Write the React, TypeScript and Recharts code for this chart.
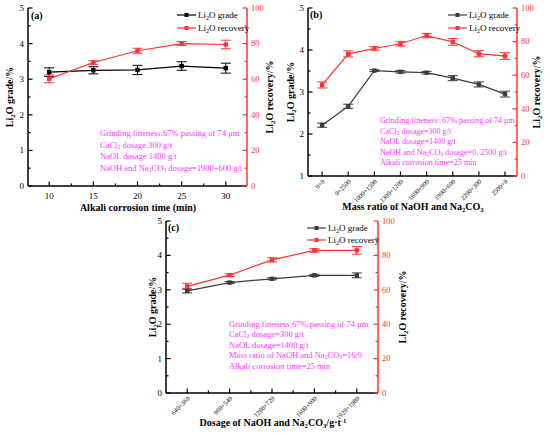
import React from 'react';
import type { ReactNode } from 'react';
import { LineChart, Line, XAxis, YAxis, ErrorBar, Legend } from 'recharts';

const FONT = '"Liberation Serif", "Times New Roman", serif';
const RED = '#ff3333';
const MAGENTA = '#ff33ff';

// (a) alkali corrosion time
const timeMinutes = [10, 15, 20, 25, 30];
const gradeA = [3.2, 3.25, 3.26, 3.37, 3.31];
const gradeErrA = [0.12, 0.1, 0.13, 0.12, 0.14];
const recoveryA = [60.2, 69.4, 76.0, 80.0, 79.5];
const recoveryErrA = [2.2, 1.0, 1.4, 1.1, 2.4];

// (b) mass ratio of NaOH and Na2CO3
const ratioLabels = ['0+0', '0+2500', '1000+1500', '1300+1200', '1600+900', '1900+600', '2200+300', '2500+0'];
const gradeB = [2.21, 2.66, 3.51, 3.48, 3.46, 3.33, 3.18, 2.95];
const gradeErrB = [0.05, 0.05, 0.02, 0.03, 0.03, 0.06, 0.06, 0.07];
const recoveryB = [54.2, 72.7, 75.9, 78.7, 83.6, 79.8, 72.8, 71.4];
const recoveryErrB = [1.8, 1.8, 1.0, 1.4, 1.3, 2.0, 1.8, 2.0];

// (c) dosage of NaOH and Na2CO3
const dosageLabels = ['640+360', '960+540', '1280+720', '1600+900', '1920+1080'];
const gradeC = [2.97, 3.21, 3.32, 3.42, 3.42];
const gradeErrC = [0.06, 0.03, 0.03, 0.03, 0.07];
const recoveryC = [62.0, 68.5, 77.4, 82.9, 82.9];
const recoveryErrC = [1.8, 0.8, 1.2, 1.0, 2.2];

// major ticks every 20, minor every 10
const recoveryTicks = [0, 10, 20, 30, 40, 50, 60, 70, 80, 90, 100];

type Row = { x: number; grade: number; gradeErr: number; recovery: number; recoveryErr: number };

const makeRows = (xs: number[], g: number[], ge: number[], r: number[], re: number[]): Row[] =>
  xs.map((x, i) => ({ x, grade: g[i], gradeErr: ge[i], recovery: r[i], recoveryErr: re[i] }));

const Sub = ({ children }: { children: ReactNode }) => (
  <sub style={{ fontSize: '0.68em', lineHeight: 0, verticalAlign: '-0.25em' }}>{children}</sub>
);
const Sup = ({ children }: { children: ReactNode }) => (
  <sup style={{ fontSize: '0.68em', lineHeight: 0, verticalAlign: '0.45em' }}>{children}</sup>
);

const BottomTick = (props: any) => {
  const { x, y, payload, labelOf, rotated } = props;
  const label = labelOf(payload.value);
  return (
    <g>
      <line x1={x} y1={y} x2={x} y2={y - (label === null ? 2.5 : 4.5)} stroke="#000" strokeWidth={1.2} />
      {label !== null &&
        (rotated ? (
          <text
            transform={`translate(${x + 3},${y + 6}) rotate(-45)`}
            textAnchor="end"
            fontSize={6.5}
            fontFamily={FONT}
            fill="#000"
          >
            {label}
          </text>
        ) : (
          <text x={x} y={y + 13} textAnchor="middle" fontSize={9} fontFamily={FONT} fill="#000">
            {label}
          </text>
        ))}
    </g>
  );
};

const LeftTick = (props: any) => {
  const { x, y, payload } = props;
  const major = Number.isInteger(payload.value);
  return (
    <g>
      <line x1={x} y1={y} x2={x + (major ? 4.5 : 2.5)} y2={y} stroke="#000" strokeWidth={1.2} />
      {major && (
        <text x={x - 4} y={y} dy="0.34em" textAnchor="end" fontSize={9} fontFamily={FONT} fill="#000">
          {payload.value}
        </text>
      )}
    </g>
  );
};

const RightTick = (props: any) => {
  const { x, y, payload } = props;
  const major = payload.value % 20 === 0;
  return (
    <g>
      <line x1={x} y1={y} x2={x - (major ? 4.5 : 2.5)} y2={y} stroke={RED} strokeWidth={1.2} />
      {major && (
        <text x={x + 4} y={y} dy="0.34em" textAnchor="start" fontSize={8.5} fontFamily={FONT} fill={RED}>
          {payload.value}
        </text>
      )}
    </g>
  );
};

const squareDot = (color: string) => (p: any) => (
  <rect key={`d-${p.index}`} x={p.cx - 2.2} y={p.cy - 2.2} width={4.4} height={4.4} fill={color} />
);

const LegendRows = ({ gradeColor }: { gradeColor: string }) => (
  <div style={{ fontFamily: FONT, fontSize: 9, color: '#000' }}>
    {[
      { c: gradeColor, t: 'grade' },
      { c: RED, t: 'recovery' },
    ].map((item) => (
      <div key={item.t} style={{ display: 'flex', alignItems: 'center', height: 12.5, whiteSpace: 'nowrap' }}>
        <svg width={19} height={8}>
          <line x1={0} y1={4} x2={19} y2={4} stroke={item.c} strokeWidth={1.2} />
          <rect x={7.5} y={2} width={4} height={4} fill={item.c} />
        </svg>
        <span style={{ marginLeft: 2 }}>
          Li<Sub>2</Sub>O {item.t}
        </span>
      </div>
    ))}
  </div>
);

interface PanelProps {
  left: number;
  top: number;
  width: number;
  height: number;
  marginTop: number;
  leftW: number;
  rightW: number;
  xH: number;
  data: Row[];
  xDomain: [number, number];
  xTicks: number[];
  labelOf: (v: number) => string | null;
  rotated: boolean;
  gradeDomain: [number, number];
  gradeTicks: number[];
  gradeColor: string;
  tag: string;
  tagX: number;
  tagY: number;
  legendX: number;
  legendY: number;
  xTitle: ReactNode;
  xTitleX: number;
  xTitleY: number;
  yLeftX: number;
  yRightX: number;
  yMidY: number;
  notes: ReactNode[];
  notesX: number;
  notesY: number;
  notesGap: number;
  notesSize: number;
}

const centered = (x: number, y: number, rotate = 0): React.CSSProperties => ({
  position: 'absolute',
  left: x,
  top: y,
  transform: `translate(-50%,-50%) rotate(${rotate}deg)`,
  whiteSpace: 'nowrap',
  lineHeight: 1,
});

const Panel = (p: PanelProps) => (
  <div style={{ position: 'absolute', left: p.left, top: p.top, width: p.width, height: p.height }}>
    <LineChart
      width={p.width}
      height={p.height}
      data={p.data}
      margin={{ top: p.marginTop, right: 0, bottom: 0, left: 0 }}
    >
      <XAxis
        type="number"
        dataKey="x"
        domain={p.xDomain}
        ticks={p.xTicks}
        interval={0}
        height={p.xH}
        tickSize={0}
        tickMargin={0}
        tickLine={false}
        axisLine={{ stroke: '#000', strokeWidth: 1.5 }}
        tick={<BottomTick labelOf={p.labelOf} rotated={p.rotated} />}
      />
      <YAxis
        yAxisId="left"
        orientation="left"
        width={p.leftW}
        domain={p.gradeDomain}
        ticks={p.gradeTicks}
        interval={0}
        tickSize={0}
        tickMargin={0}
        tickLine={false}
        axisLine={{ stroke: '#000', strokeWidth: 1.5 }}
        tick={<LeftTick />}
      />
      <YAxis
        yAxisId="right"
        orientation="right"
        width={p.rightW}
        domain={[0, 100]}
        ticks={recoveryTicks}
        interval={0}
        tickSize={0}
        tickMargin={0}
        tickLine={false}
        axisLine={{ stroke: RED, strokeWidth: 1.5 }}
        tick={<RightTick />}
      />
      <Legend
        layout="vertical"
        align="center"
        verticalAlign="middle"
        wrapperStyle={{ left: p.legendX, top: p.legendY, width: 'auto' }}
        content={() => <LegendRows gradeColor={p.gradeColor} />}
      />
      <Line
        yAxisId="left"
        dataKey="grade"
        name="grade"
        type="linear"
        stroke={p.gradeColor}
        strokeWidth={1.2}
        dot={squareDot(p.gradeColor)}
        activeDot={false}
        isAnimationActive={false}
      >
        <ErrorBar dataKey="gradeErr" direction="y" width={5} stroke={p.gradeColor} strokeWidth={1} />
      </Line>
      <Line
        yAxisId="right"
        dataKey="recovery"
        name="recovery"
        type="linear"
        stroke={RED}
        strokeWidth={1.2}
        dot={squareDot(RED)}
        activeDot={false}
        isAnimationActive={false}
      >
        <ErrorBar dataKey="recoveryErr" direction="y" width={5} stroke={RED} strokeWidth={1} />
      </Line>
    </LineChart>

    <div style={{ position: 'absolute', left: p.tagX, top: p.tagY, transform: 'translateY(-50%)', fontWeight: 'bold', fontSize: 10, lineHeight: 1 }}>
      {p.tag}
    </div>
    <div style={{ ...centered(p.xTitleX, p.xTitleY), fontWeight: 'bold', fontSize: 10 }}>{p.xTitle}</div>
    <div style={{ ...centered(p.yLeftX, p.yMidY, -90), fontWeight: 'bold', fontSize: 10 }}>
      Li<Sub>2</Sub>O grade/%
    </div>
    <div style={{ ...centered(p.yRightX, p.yMidY, -90), fontWeight: 'bold', fontSize: 10 }}>
      Li<Sub>2</Sub>O recovery/%
    </div>
    {p.notes.map((n, i) => (
      <div
        key={i}
        style={{
          position: 'absolute',
          left: p.notesX,
          top: p.notesY + i * p.notesGap,
          transform: 'translateY(-50%)',
          whiteSpace: 'nowrap',
          fontSize: p.notesSize,
          lineHeight: 1,
          color: MAGENTA,
        }}
      >
        {n}
      </div>
    ))}
  </div>
);

const idx = (labels: string[]) => labels.map((_, i) => i);
const halfSteps = (n: number) => Array.from({ length: 2 * n - 1 }, (_, i) => i / 2);

export default function App() {
  return (
    <div style={{ position: 'absolute', left: 0, top: 0, width: 550, height: 435, background: '#fff', fontFamily: FONT, color: '#000' }}>
      <Panel
        left={0}
        top={0}
        width={275}
        height={215}
        marginTop={8}
        leftW={28}
        rightW={28}
        xH={29}
        data={makeRows(timeMinutes, gradeA, gradeErrA, recoveryA, recoveryErrA)}
        xDomain={[7.6, 32.4]}
        xTicks={[10, 12.5, 15, 17.5, 20, 22.5, 25, 27.5, 30]}
        labelOf={(v) => (v % 5 === 0 ? String(v) : null)}
        rotated={false}
        gradeDomain={[0, 5]}
        gradeTicks={[0, 0.5, 1, 1.5, 2, 2.5, 3, 3.5, 4, 4.5, 5]}
        gradeColor="#000000"
        tag="(a)"
        tagX={31}
        tagY={16}
        legendX={177}
        legendY={9}
        xTitle="Alkali corrosion time (min)"
        xTitleX={138}
        xTitleY={208}
        yLeftX={10}
        yRightX={270}
        yMidY={97}
        notes={[
          'Grinding fineness:67% passing of 74 μm',
          <>CaCl<Sub>2</Sub> dosage 300 g/t</>,
          'NaOL dosage 1400 g/t',
          <>NaOH and Na<Sub>2</Sub>CO<Sub>3</Sub> dosage=1900+600 g/t</>,
        ]}
        notesX={100}
        notesY={133}
        notesGap={11.5}
        notesSize={8.5}
      />
      <Panel
        left={275}
        top={0}
        width={275}
        height={215}
        marginTop={8}
        leftW={33}
        rightW={33}
        xH={39}
        data={makeRows(idx(ratioLabels), gradeB, gradeErrB, recoveryB, recoveryErrB)}
        xDomain={[-0.54, 7.46]}
        xTicks={idx(ratioLabels)}
        labelOf={(v) => ratioLabels[v] ?? null}
        rotated
        gradeDomain={[1, 5]}
        gradeTicks={[1, 1.5, 2, 2.5, 3, 3.5, 4, 4.5, 5]}
        gradeColor="#3c3c3c"
        tag="(b)"
        tagX={35}
        tagY={15}
        legendX={173}
        legendY={9}
        xTitle={<>Mass ratio of NaOH and Na<Sub>2</Sub>CO<Sub>3</Sub></>}
        xTitleX={138}
        xTitleY={207}
        yLeftX={16}
        yRightX={262}
        yMidY={92}
        notes={[
          'Grinding fineness: 67% passing of 74 μm',
          <>CaCl<Sub>2</Sub> dosage=300 g/t</>,
          'NaOL dosage=1400 g/t',
          <>NaOH and Na<Sub>2</Sub>CO<Sub>3</Sub> dosage=0, 2500 g/t</>,
          'Alkali corrosion time=25 min',
        ]}
        notesX={105}
        notesY={121}
        notesGap={10.6}
        notesSize={8.1}
      />
      <Panel
        left={120}
        top={210}
        width={300}
        height={225}
        marginTop={11}
        leftW={46}
        rightW={42}
        xH={42}
        data={makeRows(idx(dosageLabels), gradeC, gradeErrC, recoveryC, recoveryErrC)}
        xDomain={[-0.5, 4.5]}
        xTicks={halfSteps(dosageLabels.length)}
        labelOf={(v) => (Number.isInteger(v) ? dosageLabels[v] : null)}
        rotated
        gradeDomain={[0, 5]}
        gradeTicks={[0, 0.5, 1, 1.5, 2, 2.5, 3, 3.5, 4, 4.5, 5]}
        gradeColor="#3c3c3c"
        tag="(c)"
        tagX={48}
        tagY={18}
        legendX={187}
        legendY={11.5}
        xTitle={<>Dosage of NaOH and Na<Sub>2</Sub>CO<Sub>3</Sub>/g·t<Sup>-1</Sup></>}
        xTitleX={153}
        xTitleY={213}
        yLeftX={33}
        yRightX={283}
        yMidY={97}
        notes={[
          'Grinding fineness:67% passing of 74 μm',
          <>CaCl<Sub>2</Sub> dosage=300 g/t</>,
          'NaOL dosage=1400 g/t',
          <>Mass ratio of NaOH and Na<Sub>2</Sub>CO<Sub>3</Sub>=16:9</>,
          'Alkali corrosion time=25 min',
        ]}
        notesX={109}
        notesY={114}
        notesGap={10.4}
        notesSize={8.5}
      />
    </div>
  );
}
